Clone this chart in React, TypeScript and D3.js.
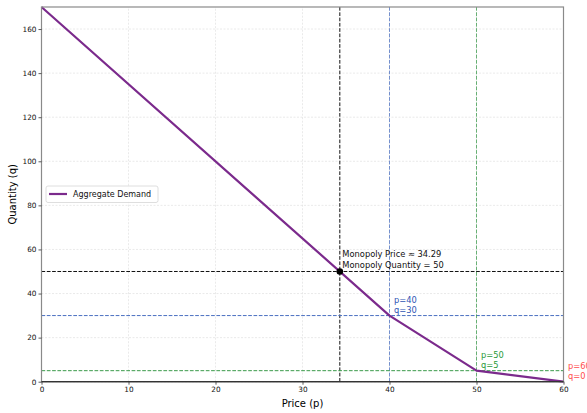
import * as d3 from 'd3';
import { useEffect, useRef } from 'react';

// demand curve (price, quantity)
const demandPrice = [0, 40, 50, 60];
const demandQty = [170, 30, 5, 0];

const monopolyPrice = 34.29;
const monopolyQty = 50;

// kink markers
const kinkPrice = [40, 50, 60];
const kinkQty = [30, 5, 0];
const kinkColor = ['#2f55b4', '#2a9a3a', '#ff4d4d'];
const kinkLineColor = ['#4a6fc0', '#3a9a4a', null];

const xTicks = [0, 10, 20, 30, 40, 50, 60];
const yTicks = [0, 20, 40, 60, 80, 100, 120, 140, 160];

export default function App() {
    const ref = useRef<SVGSVGElement | null>(null);

    useEffect(() => {
        const W = 587, H = 413;
        const svg = d3.select(ref.current);
        svg.selectAll('*').remove();
        svg.attr('width', W).attr('height', H);
        const font = 'DejaVu Sans, sans-serif';

        const x = d3.scaleLinear().domain([0, 60]).range([41.5, 563.5]);
        const y = d3.scaleLinear().domain([0, 170]).range([381.7, 7]);
        const [x0, x1] = x.range();
        const [y0, y1] = y.range();

        // grid
        const grid = svg.append('g');
        grid.selectAll('.gx').data(xTicks).join('line')
            .attr('x1', d => x(d)).attr('x2', d => x(d))
            .attr('y1', y0).attr('y2', y1)
            .attr('stroke', '#dcdcdc').attr('stroke-width', 0.6).attr('stroke-dasharray', '2,1.5');
        grid.selectAll('.gy').data(yTicks).join('line')
            .attr('x1', x0).attr('x2', x1)
            .attr('y1', d => y(d)).attr('y2', d => y(d))
            .attr('stroke', '#dcdcdc').attr('stroke-width', 0.6).attr('stroke-dasharray', '2,1.5');

        // reference lines
        const refs = svg.append('g').attr('fill', 'none').attr('stroke-width', 1).attr('stroke-dasharray', '3.7,1.6');
        refs.append('line').attr('x1', x(monopolyPrice)).attr('x2', x(monopolyPrice))
            .attr('y1', y0).attr('y2', y1).attr('stroke', '#111');
        refs.append('line').attr('x1', x0).attr('x2', x1)
            .attr('y1', y(monopolyQty)).attr('y2', y(monopolyQty)).attr('stroke', '#111');
        kinkPrice.forEach((p, i) => {
            const c = kinkLineColor[i];
            if (!c) return;
            refs.append('line').attr('x1', x(p)).attr('x2', x(p))
                .attr('y1', y0).attr('y2', y1).attr('stroke', c).attr('opacity', 0.75);
            refs.append('line').attr('x1', x0).attr('x2', x1)
                .attr('y1', y(kinkQty[i])).attr('y2', y(kinkQty[i])).attr('stroke', c);
        });

        // zero line
        svg.append('line').attr('x1', x0).attr('x2', x1).attr('y1', y(0)).attr('y2', y(0))
            .attr('stroke', '#222').attr('stroke-width', 1);

        // demand curve
        const pts = demandPrice.map((p, i) => [p, demandQty[i]] as [number, number]);
        const line = d3.line<[number, number]>().x(d => x(d[0])).y(d => y(d[1]));
        svg.append('path').datum(pts).attr('d', line)
            .attr('fill', 'none').attr('stroke', '#7b2a8c').attr('stroke-width', 2.2)
            .attr('stroke-linejoin', 'round');

        // monopoly point
        svg.append('circle').attr('cx', x(monopolyPrice)).attr('cy', y(monopolyQty))
            .attr('r', 3.3).attr('fill', '#000');

        // spines
        svg.append('rect').attr('x', x0).attr('y', y1).attr('width', x1 - x0).attr('height', y0 - y1)
            .attr('fill', 'none').attr('stroke', '#8a8a8a').attr('stroke-width', 1.2);
        svg.append('line').attr('x1', x0).attr('x2', x1).attr('y1', y0).attr('y2', y0)
            .attr('stroke', '#222').attr('stroke-width', 1);

        // axes
        const xAxis = svg.append('g').attr('transform', `translate(0,${y0})`)
            .call(d3.axisBottom(x).tickValues(xTicks).tickSize(3).tickPadding(2));
        const yAxis = svg.append('g').attr('transform', `translate(${x0},0)`)
            .call(d3.axisLeft(y).tickValues(yTicks).tickSize(3).tickPadding(2));
        [xAxis, yAxis].forEach(a => {
            a.select('.domain').remove();
            a.selectAll('line').attr('stroke', '#333').attr('stroke-width', 0.8);
            a.selectAll('text').attr('font-family', font).attr('font-size', 7.3).attr('fill', '#111');
        });

        // axis titles
        svg.append('text').attr('x', (x0 + x1) / 2).attr('y', 406.5).attr('text-anchor', 'middle')
            .attr('font-family', font).attr('font-size', 10).text('Price (p)');
        svg.append('text').attr('transform', `translate(15.5,${(y0 + y1) / 2}) rotate(-90)`)
            .attr('text-anchor', 'middle').attr('font-family', font).attr('font-size', 10).text('Quantity (q)');

        // annotations
        const ann = svg.append('g').attr('font-family', font).attr('font-size', 8.3);
        const mono = ann.append('text').attr('x', x(monopolyPrice) + 2.5).attr('y', y(monopolyQty) - 14).attr('fill', '#111');
        mono.append('tspan').text(`Monopoly Price ≈ ${monopolyPrice}`);
        mono.append('tspan').attr('x', x(monopolyPrice) + 2.5).attr('dy', 10.2).text(`Monopoly Quantity = ${monopolyQty}`);
        kinkPrice.forEach((p, i) => {
            const t = ann.append('text').attr('x', x(p) + 4.5).attr('y', y(kinkQty[i]) - 12.5).attr('fill', kinkColor[i]);
            t.append('tspan').text(`p=${p}`);
            t.append('tspan').attr('x', x(p) + 4.5).attr('dy', 10.2).text(`q=${kinkQty[i]}`);
        });

        // legend
        const lg = svg.append('g');
        lg.append('rect').attr('x', 46).attr('y', 186).attr('width', 112).attr('height', 16.5).attr('rx', 2)
            .attr('fill', '#fff').attr('fill-opacity', 0.85).attr('stroke', '#d6d6d6').attr('stroke-width', 0.8);
        lg.append('line').attr('x1', 49).attr('x2', 67).attr('y1', 194).attr('y2', 194)
            .attr('stroke', '#7b2a8c').attr('stroke-width', 2.2);
        lg.append('text').attr('x', 73).attr('y', 197).attr('font-family', font).attr('font-size', 8)
            .attr('fill', '#111').text('Aggregate Demand');
    }, []);

    return (
        <div style={{ position: 'absolute', left: 0, top: 0 }}>
            <svg ref={ref} style={{ display: 'block' }}></svg>
        </div>
    );
}
